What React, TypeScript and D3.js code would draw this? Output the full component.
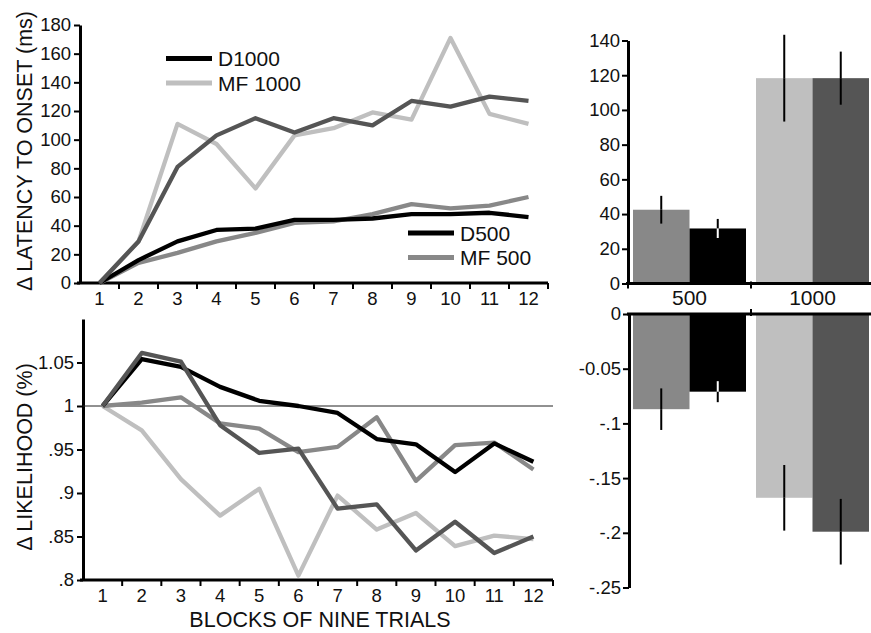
import { useEffect, useRef } from 'react';
import * as d3 from 'd3';

// blocks of nine trials
const blocks = ['1', '2', '3', '4', '5', '6', '7', '8', '9', '10', '11', '12'];

// change in latency to onset (ms)
const latD1000 = [0, 29, 81, 103, 115, 105, 115, 110, 127, 123, 130, 127];
const latMF1000 = [0, 29, 111, 97, 66, 103, 108, 119, 114, 171, 118, 111];
const latD500 = [0, 16, 29, 37, 38, 44, 44, 45, 48, 48, 49, 46];
const latMF500 = [0, 14, 21, 29, 35, 42, 43, 48, 55, 52, 54, 60];

// change in likelihood
const likD500 = [1, 1.054, 1.045, 1.022, 1.006, 1.0, 0.992, 0.962, 0.956, 0.924, 0.957, 0.936];
const likD1000 = [1, 1.061, 1.051, 0.978, 0.946, 0.951, 0.882, 0.887, 0.834, 0.867, 0.831, 0.85];
const likMF500 = [1, 1.004, 1.01, 0.98, 0.974, 0.947, 0.953, 0.987, 0.914, 0.955, 0.958, 0.927];
const likMF1000 = [1, 0.972, 0.916, 0.874, 0.905, 0.805, 0.897, 0.858, 0.877, 0.839, 0.851, 0.847];

const latTicks = [0, 20, 40, 60, 80, 100, 120, 140, 160, 180];
const likTicks = [0.8, 0.85, 0.9, 0.95, 1, 1.05];
const likTickLabels = ['.8', '.85', '.9', '.95', '1', '1.05'];

// summary bars (MF first, D second, per group)
const groups = ['500', '1000'];
const barLatMF = [42.5, 118.3];
const barLatMFErr = [8, 25];
const barLatD = [31.7, 118.3];
const barLatDErr = [5.5, 15.3];
const barLikMF = [-0.087, -0.168];
const barLikMFErr = [0.019, 0.03];
const barLikD = [-0.071, -0.199];
const barLikDErr = [0.0096, 0.03];

const barLatTicks = [0, 20, 40, 60, 80, 100, 120, 140];
const barLikTicks = [0, -0.05, -0.1, -0.15, -0.2, -0.25];
const barLikTickLabels = ['0', '-0.05', '-.1', '-.15', '-.2', '-.25'];

const C_BLACK = '#000';
const C_DARK = '#555';
const C_MID = '#888';
const C_LIGHT = '#bfbfbf';

const FONT = '"Liberation Sans", Arial, sans-serif';
const TICK_FS = 18.5;
const TITLE_FS = 21.5;

const App = () => {
    const ref = useRef<SVGSVGElement>(null);

    useEffect(() => {
        const svg = d3.select(ref.current);
        svg.selectAll('*').remove();
        svg.attr('font-family', FONT);

        const styleAxis = (g: any) => {
            g.select('.domain').attr('stroke-width', 3).attr('stroke', '#000');
            g.selectAll('.tick line').attr('stroke-width', 2).attr('stroke', '#000');
            g.selectAll('.tick text').attr('font-size', TICK_FS).attr('font-family', FONT).attr('fill', '#111');
        };

        const lineChart = (
            x: d3.ScaleBand<string>,
            y: d3.ScaleLinear<number, number>,
            series: { vals: number[]; color: string }[]
        ) => {
            const line = d3.line<number>()
                .x((d, i) => (x(blocks[i]) as number) + x.bandwidth() / 2)
                .y(d => y(d));
            svg.append('g')
                .attr('fill', 'none')
                .attr('stroke-width', 4.3)
                .attr('stroke-linejoin', 'round')
                .selectAll('path')
                .data(series)
                .join('path')
                .attr('stroke', d => d.color)
                .attr('d', d => line(d.vals));
        };

        const bandAxis = (x: d3.ScaleBand<string>, yPos: number) => {
            const [r0, r1] = x.range();
            const g = svg.append('g').attr('transform', `translate(0,${yPos})`);
            g.append('line').attr('x1', r0 - 3).attr('x2', r1).attr('stroke', '#000').attr('stroke-width', 3);
            g.selectAll('line.tk')
                .data(blocks)
                .join('line')
                .attr('class', 'tk')
                .attr('x1', d => (x(d) as number) + x.bandwidth())
                .attr('x2', d => (x(d) as number) + x.bandwidth())
                .attr('y1', 0)
                .attr('y2', 6)
                .attr('stroke', '#000')
                .attr('stroke-width', 2);
            g.selectAll('text')
                .data(blocks)
                .join('text')
                .attr('x', d => (x(d) as number) + x.bandwidth() / 2)
                .attr('y', 22)
                .attr('text-anchor', 'middle')
                .attr('font-size', TICK_FS)
                .attr('fill', '#111')
                .text(d => d);
        };

        // ---------- top left: latency ----------
        const x1 = d3.scaleBand<string>().domain(blocks).range([80, 548]);
        const y1 = d3.scaleLinear().domain([0, 180]).range([283, 25]);

        svg.append('g')
            .attr('transform', 'translate(80,0)')
            .call(d3.axisLeft(y1).tickValues(latTicks).tickSize(6).tickSizeOuter(0).tickPadding(3))
            .call(styleAxis);
        bandAxis(x1, 283);

        lineChart(x1, y1, [
            { vals: latMF1000, color: C_LIGHT },
            { vals: latMF500, color: C_MID },
            { vals: latD500, color: C_BLACK },
            { vals: latD1000, color: C_DARK },
        ]);

        svg.append('text')
            .attr('transform', 'translate(32,151) rotate(-90)')
            .attr('text-anchor', 'middle')
            .attr('font-size', TITLE_FS)
            .attr('fill', '#111')
            .text('\u0394 LATENCY TO ONSET (ms)');

        const legend = (items: { label: string; color: string }[], x0: number, y0: number) => {
            const g = svg.append('g').attr('transform', `translate(${x0},${y0})`);
            items.forEach((it, i) => {
                g.append('line')
                    .attr('x1', 0).attr('x2', 46)
                    .attr('y1', i * 24.5).attr('y2', i * 24.5)
                    .attr('stroke', it.color).attr('stroke-width', 5);
                g.append('text')
                    .attr('x', 52).attr('y', i * 24.5 + 7.5)
                    .attr('font-size', 21)
                    .attr('fill', '#111')
                    .text(it.label);
            });
        };
        legend([{ label: 'D1000', color: C_BLACK }, { label: 'MF 1000', color: C_LIGHT }], 166, 58.5);
        legend([{ label: 'D500', color: C_BLACK }, { label: 'MF 500', color: C_MID }], 408, 233);

        // ---------- bottom left: likelihood ----------
        const x2 = d3.scaleBand<string>().domain(blocks).range([83, 553]);
        const y2 = d3.scaleLinear().domain([0.8, 1.1]).range([580, 319]);

        svg.append('g')
            .attr('transform', 'translate(83,0)')
            .call(d3.axisLeft(y2).tickValues(likTicks).tickFormat((d, i) => likTickLabels[i]).tickSize(6).tickSizeOuter(0).tickPadding(3))
            .call(styleAxis);
        bandAxis(x2, 580);

        svg.append('line')
            .attr('x1', 83).attr('x2', 553)
            .attr('y1', y2(1)).attr('y2', y2(1))
            .attr('stroke', '#222').attr('stroke-width', 1);

        lineChart(x2, y2, [
            { vals: likMF1000, color: C_LIGHT },
            { vals: likMF500, color: C_MID },
            { vals: likD500, color: C_BLACK },
            { vals: likD1000, color: C_DARK },
        ]);

        svg.append('text')
            .attr('transform', 'translate(32,457) rotate(-90)')
            .attr('text-anchor', 'middle')
            .attr('font-size', TITLE_FS)
            .attr('fill', '#111')
            .text('\u0394 LIKELIHOOD (%)');

        svg.append('text')
            .attr('x', 320).attr('y', 627)
            .attr('text-anchor', 'middle')
            .attr('font-size', TITLE_FS)
            .attr('fill', '#111')
            .text('BLOCKS OF NINE TRIALS');

        // ---------- right: summary bars ----------
        const xg = d3.scaleBand<string>().domain(groups).range([628, 874]);
        const xs = d3.scaleBand<string>().domain(['MF', 'D']).range([5, 118]);
        const colorsMF = [C_MID, C_LIGHT];
        const colorsD = [C_BLACK, C_DARK];

        const barRows = (i: number) => [
            { key: 'MF', color: colorsMF[i] },
            { key: 'D', color: colorsD[i] },
        ];

        const bars = (
            y: d3.ScaleLinear<number, number>,
            mf: number[], mfErr: number[], dv: number[], dErr: number[]
        ) => {
            groups.forEach((gname, gi) => {
                barRows(gi).forEach(b => {
                    const v = b.key === 'MF' ? mf[gi] : dv[gi];
                    const e = b.key === 'MF' ? mfErr[gi] : dErr[gi];
                    const bx = (xg(gname) as number) + (xs(b.key) as number);
                    const y0 = y(0);
                    const yv = y(v);
                    svg.append('rect')
                        .attr('x', bx).attr('width', xs.bandwidth())
                        .attr('y', Math.min(y0, yv)).attr('height', Math.abs(yv - y0))
                        .attr('fill', b.color);
                    const cx = bx + xs.bandwidth() / 2;
                    const dir = Math.sign(v);
                    // part outside the bar
                    svg.append('line')
                        .attr('x1', cx).attr('x2', cx)
                        .attr('y1', yv).attr('y2', y(v + dir * e))
                        .attr('stroke', '#000').attr('stroke-width', 2);
                    // part inside the bar
                    svg.append('line')
                        .attr('x1', cx).attr('x2', cx)
                        .attr('y1', yv).attr('y2', y(v - dir * e))
                        .attr('stroke', b.color === C_BLACK ? '#fff' : '#000').attr('stroke-width', 2);
                });
            });
        };

        // top right
        const y3 = d3.scaleLinear().domain([0, 140]).range([283.5, 40.5]);
        bars(y3, barLatMF, barLatMFErr, barLatD, barLatDErr);
        svg.append('g')
            .attr('transform', 'translate(628,0)')
            .call(d3.axisLeft(y3).tickValues(barLatTicks).tickSize(6).tickSizeOuter(0).tickPadding(2))
            .call(styleAxis);
        const gx3 = svg.append('g').attr('transform', 'translate(0,283.5)');
        gx3.append('line').attr('x1', 626).attr('x2', 871).attr('stroke', '#000').attr('stroke-width', 3);
        [628, xg('1000') as number].forEach(px => {
            gx3.append('line').attr('x1', px).attr('x2', px).attr('y1', -2).attr('y2', 5)
                .attr('stroke', '#000').attr('stroke-width', 2);
        });
        gx3.selectAll('text.cat')
            .data(groups)
            .join('text')
            .attr('class', 'cat')
            .attr('x', d => (xg(d) as number) + xg.bandwidth() / 2)
            .attr('y', 21.5)
            .attr('text-anchor', 'middle')
            .attr('font-size', 21)
            .attr('fill', '#111')
            .text(d => d);

        // bottom right
        const y4 = d3.scaleLinear().domain([-0.25, 0]).range([587.5, 314]);
        bars(y4, barLikMF, barLikMFErr, barLikD, barLikDErr);
        svg.append('g')
            .attr('transform', 'translate(629,0)')
            .call(d3.axisLeft(y4).tickValues(barLikTicks).tickFormat((d, i) => barLikTickLabels[i]).tickSize(6).tickSizeOuter(0).tickPadding(2))
            .call(styleAxis);
        const gx4 = svg.append('g').attr('transform', 'translate(0,314)');
        gx4.append('line').attr('x1', 627).attr('x2', 871).attr('stroke', '#000').attr('stroke-width', 3);
        gx4.append('line').attr('x1', xg('1000') as number).attr('x2', xg('1000') as number)
            .attr('y1', -5).attr('y2', 2).attr('stroke', '#000').attr('stroke-width', 2);
    }, []);

    return (
        <svg
            ref={ref}
            width={871}
            height={633}
            style={{ position: 'absolute', left: 0, top: 0, background: '#fff' }}
        />
    );
};

export default App;
